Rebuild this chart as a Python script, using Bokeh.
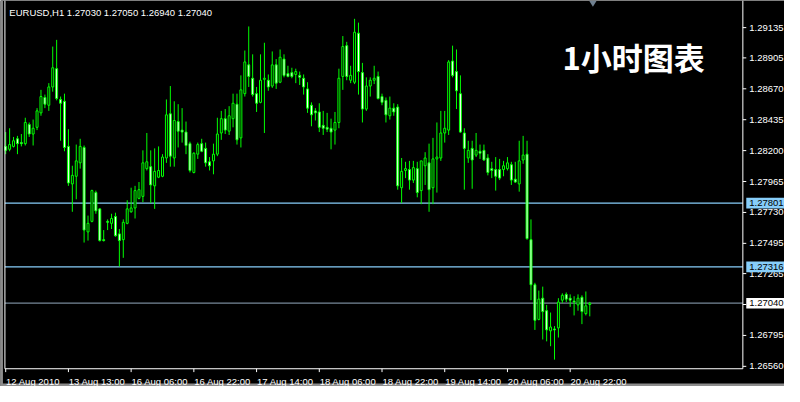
from bokeh.plotting import figure
from bokeh.models import Range1d, ColumnDataSource
from bokeh.core.properties import value
from bokeh.embed import file_html
from bokeh.resources import INLINE

# ---------------- data (hourly EURUSD candles) ----------------
symbol = "EURUSD,H1"

opens = [1.28232, 1.28210, 1.28232, 1.28290, 1.28261, 1.28253, 1.28399, 1.28326, 1.28377, 1.28487,
         1.28604, 1.28545, 1.28684, 1.28823, 1.28589, 1.28575, 1.28232, 1.27947, 1.28005, 1.28107,
         1.28224, 1.27582, 1.27662, 1.27881, 1.27757, 1.27523, 1.27662, 1.27647, 1.27699, 1.27567,
         1.27523, 1.27647, 1.27735, 1.27764, 1.27837, 1.27852, 1.28063, 1.28078, 1.27932, 1.27998,
         1.28005, 1.28144, 1.28480, 1.28144, 1.28421, 1.28356, 1.28341, 1.28253, 1.28034, 1.28173,
         1.28253, 1.28217, 1.28115, 1.28122, 1.28173, 1.28334, 1.28443, 1.28348, 1.28443, 1.28553,
         1.28297, 1.28633, 1.28852, 1.28750, 1.28633, 1.28567, 1.28742, 1.28735, 1.28691, 1.28852,
         1.28720, 1.28896, 1.28786, 1.28793, 1.28779, 1.28772, 1.28750, 1.28669, 1.28545, 1.28502,
         1.28494, 1.28392, 1.28377, 1.28370, 1.28356, 1.28414, 1.28764, 1.28998, 1.28735, 1.28720,
         1.29093, 1.28793, 1.28516, 1.28691, 1.28735, 1.28764, 1.28611, 1.28582, 1.28465, 1.28523,
         1.28531, 1.27918, 1.28049, 1.28056, 1.27976, 1.28063, 1.27896, 1.28085, 1.28107, 1.27918,
         1.28137, 1.28144, 1.28334, 1.28356, 1.28881, 1.28801, 1.28633, 1.28334, 1.28144, 1.28217,
         1.28166, 1.28195, 1.28202, 1.28144, 1.28063, 1.28056, 1.28056, 1.28056, 1.28063, 1.28093,
         1.27983, 1.27947, 1.28129, 1.28173, 1.27523, 1.27180, 1.26917, 1.27078, 1.26983, 1.26830,
         1.26844, 1.26852, 1.27063, 1.27107, 1.27078, 1.27056, 1.27027, 1.27085, 1.26961, 1.27030]

highs = [1.28341, 1.28370, 1.28304, 1.28312, 1.28326, 1.28450, 1.28414, 1.28436, 1.28523, 1.28662,
         1.28626, 1.28713, 1.28991, 1.29042, 1.28611, 1.28633, 1.28363, 1.28085, 1.28246, 1.28290,
         1.28239, 1.27706, 1.27903, 1.27896, 1.27764, 1.27596, 1.27677, 1.27720, 1.27728, 1.27604,
         1.27677, 1.27823, 1.27918, 1.27932, 1.27961, 1.28202, 1.28334, 1.28202, 1.28217, 1.28232,
         1.28173, 1.28589, 1.28691, 1.28575, 1.28553, 1.28523, 1.28421, 1.28268, 1.28188, 1.28261,
         1.28290, 1.28261, 1.28151, 1.28253, 1.28450, 1.28502, 1.28516, 1.28538, 1.28633, 1.28633,
         1.28772, 1.28961, 1.29144, 1.28932, 1.28684, 1.28932, 1.29020, 1.28779, 1.28954, 1.28896,
         1.28969, 1.28932, 1.28845, 1.28830, 1.28823, 1.28801, 1.28779, 1.28720, 1.28567, 1.28523,
         1.28560, 1.28502, 1.28487, 1.28443, 1.28494, 1.28823, 1.29071, 1.29027, 1.28845, 1.29202,
         1.29173, 1.28867, 1.28757, 1.28757, 1.28845, 1.28801, 1.28633, 1.28604, 1.28611, 1.28560,
         1.28553, 1.28144, 1.28115, 1.28122, 1.28122, 1.28115, 1.28122, 1.28188, 1.28253, 1.28297,
         1.28414, 1.28502, 1.28502, 1.28888, 1.28998, 1.28969, 1.28772, 1.28370, 1.28275, 1.28275,
         1.28334, 1.28246, 1.28246, 1.28173, 1.28115, 1.28151, 1.28137, 1.28122, 1.28151, 1.28115,
         1.28115, 1.28275, 1.28312, 1.28275, 1.27677, 1.27195, 1.27136, 1.27166, 1.27027, 1.26969,
         1.26866, 1.27078, 1.27115, 1.27122, 1.27107, 1.27093, 1.27107, 1.27100, 1.27129, 1.27050]

lows = [1.28173, 1.28195, 1.28224, 1.28173, 1.28232, 1.28239, 1.28304, 1.28239, 1.28356, 1.28465,
        1.28523, 1.28502, 1.28648, 1.28582, 1.28275, 1.28195, 1.27932, 1.27735, 1.27830, 1.28063,
        1.27501, 1.27516, 1.27655, 1.27720, 1.27509, 1.27509, 1.27596, 1.27604, 1.27545, 1.27319,
        1.27385, 1.27640, 1.27728, 1.27684, 1.27830, 1.27808, 1.28049, 1.27801, 1.27757, 1.27991,
        1.27998, 1.28107, 1.28078, 1.28078, 1.28224, 1.28261, 1.28173, 1.28034, 1.28027, 1.28137,
        1.28188, 1.28078, 1.28049, 1.28020, 1.28158, 1.28282, 1.28326, 1.28319, 1.28377, 1.28246,
        1.28224, 1.28611, 1.28684, 1.28611, 1.28494, 1.28560, 1.28334, 1.28655, 1.28677, 1.28669,
        1.28713, 1.28757, 1.28757, 1.28750, 1.28713, 1.28699, 1.28626, 1.28487, 1.28385, 1.28429,
        1.28341, 1.28319, 1.28341, 1.28210, 1.28246, 1.28370, 1.28662, 1.28735, 1.28713, 1.28706,
        1.28626, 1.28414, 1.28502, 1.28611, 1.28706, 1.28589, 1.28545, 1.28414, 1.28436, 1.28465,
        1.27903, 1.27801, 1.27991, 1.27903, 1.27954, 1.27845, 1.27793, 1.27939, 1.27735, 1.27793,
        1.27881, 1.28122, 1.28261, 1.28319, 1.28757, 1.28516, 1.28334, 1.27903, 1.28107, 1.27910,
        1.28151, 1.28137, 1.28122, 1.28012, 1.27991, 1.27896, 1.27976, 1.28005, 1.28049, 1.27939,
        1.27954, 1.27888, 1.28100, 1.27523, 1.27063, 1.26837, 1.26910, 1.26764, 1.26750, 1.26713,
        1.26611, 1.26779, 1.27042, 1.27049, 1.27012, 1.26947, 1.26983, 1.26881, 1.26947, 1.26940]

closes = [1.28202, 1.28246, 1.28275, 1.28253, 1.28253, 1.28414, 1.28326, 1.28370, 1.28502, 1.28611,
          1.28553, 1.28684, 1.28830, 1.28596, 1.28560, 1.28224, 1.27954, 1.28012, 1.28122, 1.28232,
          1.27596, 1.27647, 1.27896, 1.27742, 1.27516, 1.27516, 1.27655, 1.27684, 1.27553, 1.27516,
          1.27655, 1.27757, 1.27764, 1.27896, 1.27903, 1.28107, 1.28115, 1.27939, 1.28042, 1.28049,
          1.28151, 1.28472, 1.28158, 1.28429, 1.28348, 1.28341, 1.28239, 1.28049, 1.28180, 1.28246,
          1.28195, 1.28107, 1.28085, 1.28173, 1.28326, 1.28443, 1.28356, 1.28465, 1.28560, 1.28282,
          1.28662, 1.28874, 1.28764, 1.28626, 1.28560, 1.28735, 1.28750, 1.28684, 1.28852, 1.28713,
          1.28910, 1.28772, 1.28764, 1.28764, 1.28801, 1.28757, 1.28684, 1.28523, 1.28472, 1.28487,
          1.28377, 1.28370, 1.28363, 1.28341, 1.28414, 1.28750, 1.28991, 1.28764, 1.28772, 1.29100,
          1.28801, 1.28516, 1.28691, 1.28735, 1.28750, 1.28596, 1.28567, 1.28472, 1.28523, 1.28494,
          1.27932, 1.28042, 1.28063, 1.27976, 1.28071, 1.27881, 1.28122, 1.28144, 1.27903, 1.28137,
          1.28151, 1.28334, 1.28370, 1.28874, 1.28772, 1.28655, 1.28341, 1.28217, 1.28202, 1.28129,
          1.28202, 1.28180, 1.28129, 1.28034, 1.28049, 1.28005, 1.27991, 1.28085, 1.28107, 1.27976,
          1.27961, 1.28122, 1.28166, 1.27531, 1.27180, 1.26910, 1.27071, 1.26976, 1.26837, 1.26859,
          1.26837, 1.27049, 1.27100, 1.27071, 1.27063, 1.27049, 1.27078, 1.26976, 1.27020, 1.27040]

time_tick_bars = [0, 16, 32, 48, 64, 80, 96, 112, 128, 144]
time_tick_labels = ["12 Aug 2010", "13 Aug 13:00", "16 Aug 06:00", "16 Aug 22:00", "17 Aug 14:00",
                    "18 Aug 06:00", "18 Aug 22:00", "19 Aug 14:00", "20 Aug 06:00", "20 Aug 22:00"]

price_ticks = [1.29135, 1.28905, 1.28670, 1.28435, 1.28200, 1.27965, 1.27730,
               1.27495, 1.27265, 1.27030, 1.26795, 1.26560]

level_prices = [1.27801, 1.27316]
bid_price = closes[-1]
chart_caption = "1小时图表"

# ---------------- geometry of the reference window ----------------
REF_W, REF_H = 800, 402
BAR0_PX, BAR_PITCH = 5.3, 4.0
PRICE_TOP = 1.293413
PRICE_PER_PX = 0.000073
W, H = 784, 386


def bx(px):
    return (px - BAR0_PX) / BAR_PITCH


def py(px):
    return PRICE_TOP - px * PRICE_PER_PX


LIME = "#00FF00"
FONT = value("Liberation Sans")
SMALL = value("9.5px")

p = figure(width=W, height=H,
           x_range=Range1d(bx(0), bx(REF_W)), y_range=Range1d(py(REF_H), py(0)),
           x_axis_type=None, y_axis_type=None,
           output_backend="svg", toolbar_location=None, min_border=0,
           background_fill_color="black", border_fill_color="black",
           outline_line_color=None)

left_x, right_x, bottom_y, top_y = bx(4.5), bx(757.5), py(383.5), py(0)

# window chrome
p.quad(left=[bx(0)], right=[bx(2.5)], top=[py(0)], bottom=[py(REF_H)],
       fill_color="#8c8c8c", line_color=None)
p.quad(left=[bx(0)], right=[bx(REF_W)], top=[py(399)], bottom=[py(REF_H)],
       fill_color="#8c8c8c", line_color=None)

# horizontal level lines
p.segment(x0=[left_x] * 2, x1=[right_x] * 2, y0=level_prices, y1=level_prices,
          line_color="#87CEFA", line_width=1.2)
p.segment(x0=[left_x], x1=[right_x], y0=[bid_price], y1=[bid_price],
          line_color="#778899", line_width=1.2)

# candles
xs = list(range(len(opens)))
src = ColumnDataSource(dict(
    x=xs, low=lows, high=highs,
    top=[max(o, c) for o, c in zip(opens, closes)],
    bottom=[min(o, c) for o, c in zip(opens, closes)],
    fill=["black" if c > o else "white" for o, c in zip(opens, closes)],
))
p.segment(x0="x", y0="low", x1="x", y1="high", source=src, line_color=LIME, line_width=1)
p.vbar(x="x", width=0.5, top="top", bottom="bottom", source=src,
       fill_color="fill", line_color=LIME, line_width=1)

# frame (white border: left, bottom, right)
p.segment(x0=[left_x, left_x, right_x], y0=[top_y, bottom_y, bottom_y],
          x1=[left_x, right_x, right_x], y1=[bottom_y, bottom_y, top_y],
          line_color="white", line_width=1)

# price axis ticks + labels
n_pt = len(price_ticks)
p.segment(x0=[right_x] * n_pt, x1=[bx(761)] * n_pt, y0=price_ticks, y1=price_ticks,
          line_color="white", line_width=1)
p.text(x=[bx(764)] * n_pt, y=price_ticks, text=[f"{t:.5f}" for t in price_ticks],
       text_color="white", text_font=FONT, text_font_size=SMALL,
       text_align="left", text_baseline="middle")

# level / bid tags on the price scale
tag_prices = level_prices + [bid_price]
tag_fill = ["#87CEFA", "#87CEFA", "white"]
half = 5.5 * PRICE_PER_PX
p.quad(left=[bx(761)] * 3, right=[bx(REF_W)] * 3,
       top=[t + half for t in tag_prices], bottom=[t - half for t in tag_prices],
       fill_color=tag_fill, line_color=None)
p.text(x=[bx(764)] * 3, y=tag_prices, text=[f"{t:.5f}" for t in tag_prices],
       text_color="black", text_font=FONT, text_font_size=SMALL,
       text_align="left", text_baseline="middle")

# time axis ticks + labels
n_tt = len(time_tick_bars)
p.segment(x0=time_tick_bars, x1=time_tick_bars, y0=[bottom_y] * n_tt, y1=[py(387)] * n_tt,
          line_color="white", line_width=1)
p.text(x=[t + 0.1 for t in time_tick_bars], y=[py(397)] * n_tt, text=time_tick_labels,
       text_color="white", text_font=FONT, text_font_size=SMALL,
       text_align="left", text_baseline="alphabetic")

# header: symbol + last bar OHLC
header = f"{symbol}  {opens[-1]:.5f} {highs[-1]:.5f} {lows[-1]:.5f} {closes[-1]:.5f}"
p.text(x=[bx(9)], y=[py(13)], text=[header], text_color="white", text_font=FONT,
       text_font_size=SMALL, text_align="left", text_baseline="alphabetic")

# chart-shift marker
p.patch(x=[bx(600.5), bx(608.5), bx(604.5)], y=[py(0), py(0), py(6.5)],
        fill_color="#708090", line_color=None)

# caption
p.text(x=[bx(646)], y=[py(58)], text=[chart_caption], text_color="white",
       text_font=value("Noto Sans CJK SC"), text_font_style="bold",
       text_font_size=value("31px"), text_align="center", text_baseline="middle")

open("out.html", "w").write(file_html(p, INLINE))
